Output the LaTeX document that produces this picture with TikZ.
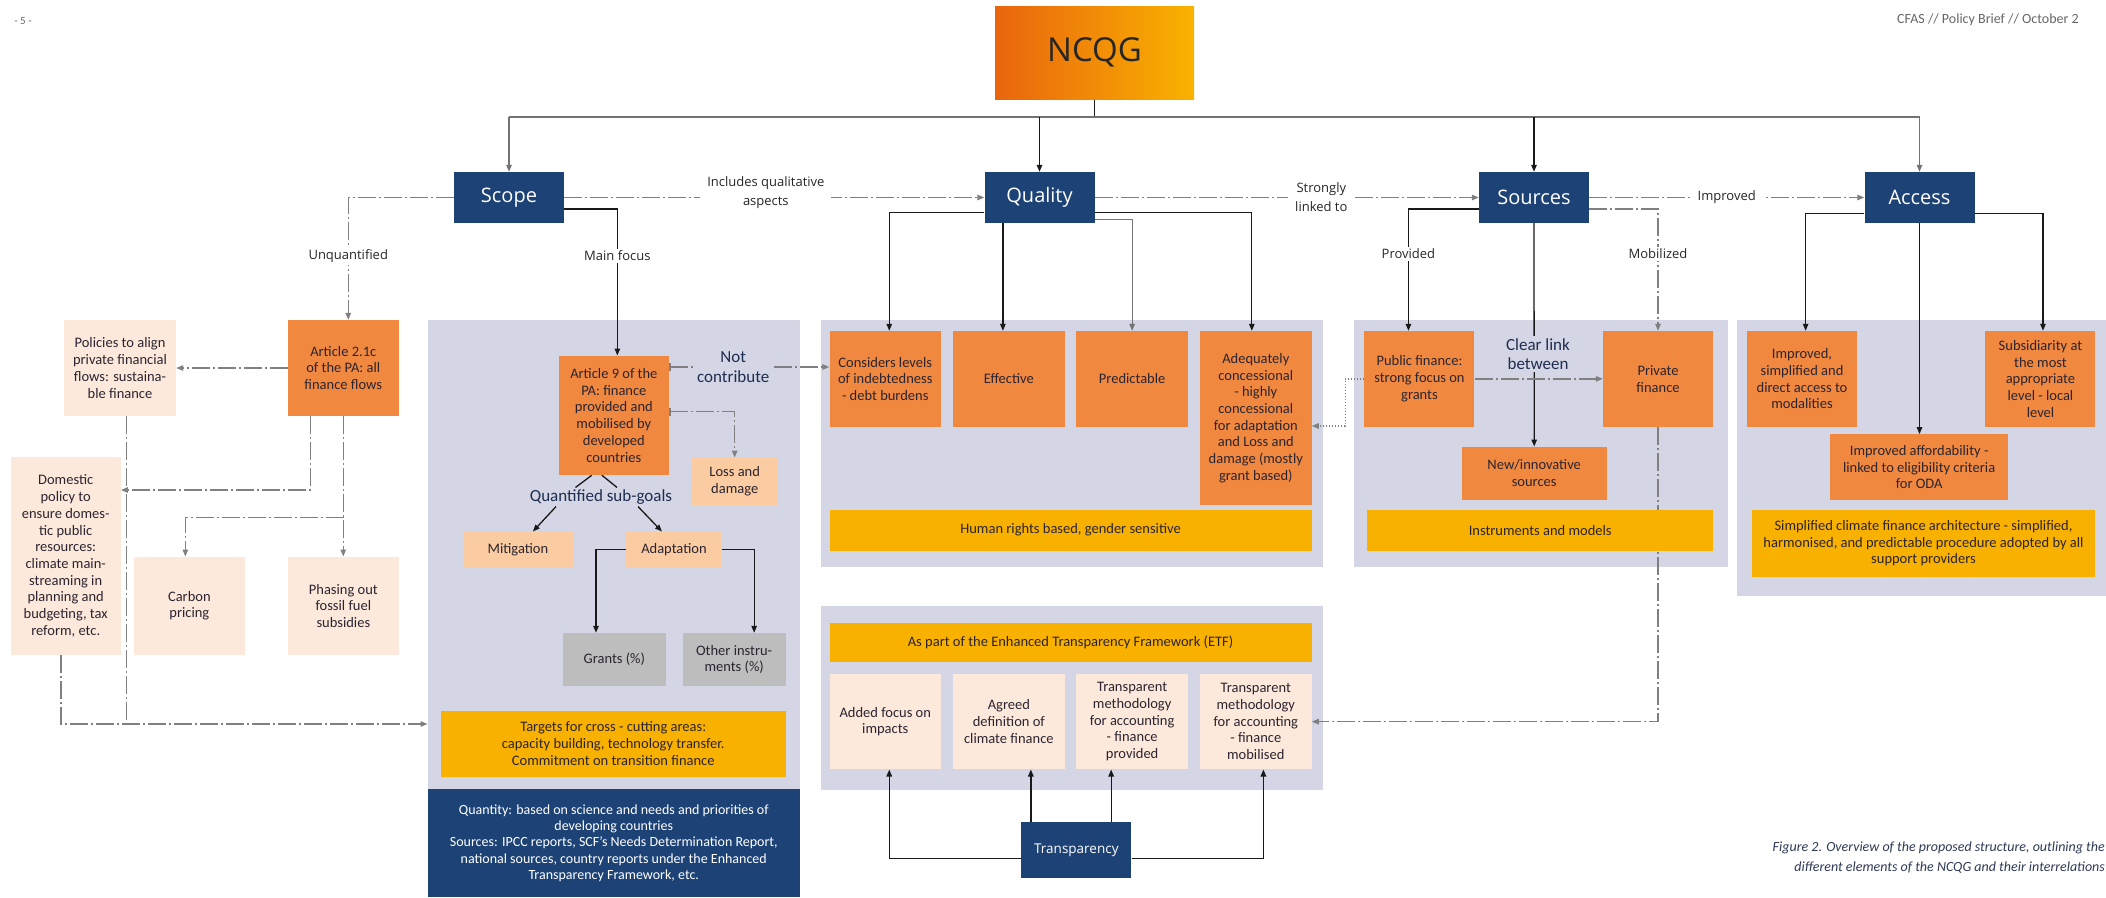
\documentclass[tikz,border=0pt]{standalone}
\usepackage{fontspec}
\setmainfont{Carlito}
\newfontfamily\opensans{Open Sans}
\usetikzlibrary{arrows.meta}
\pgfdeclarelayer{bg}
\pgfdeclarelayer{conn}
\pgfsetlayers{bg,conn,main}
\definecolor{navy}{HTML}{1D4275}
\definecolor{orng}{HTML}{F0893F}
\definecolor{lorng}{HTML}{FBCBA2}
\definecolor{peach}{HTML}{FDE9DB}
\definecolor{yelw}{HTML}{F9B100}
\definecolor{greybox}{HTML}{BDBDBD}
\definecolor{panel}{HTML}{D4D6E5}
\definecolor{ink}{HTML}{2B2430}
\definecolor{navytxt}{HTML}{1F2D4F}
\definecolor{capt}{HTML}{2F3A56}
\definecolor{ncqgA}{HTML}{E9650D}
\definecolor{ncqgB}{HTML}{F9B200}
\newcommand\bxfont{\fontsize{14.5}{16.7}\selectfont}

\begin{document}
\begin{tikzpicture}[x=1pt,y=-1pt,
    >={Triangle[length=7pt,width=5.5pt]},
    every node/.style={inner sep=0pt,align=center},
    wh/.style 2 args={minimum width=#1pt,minimum height=#2pt},
    bx/.style={text=ink,font=\bxfont},
    head/.style={fill=navy,text=white,font=\opensans\fontsize{20}{24}\selectfont,wh={110}{51}},
    org/.style={bx,fill=orng},
    lor/.style={bx,fill=lorng},
    pch/.style={bx,fill=peach},
    yel/.style={bx,fill=yelw},
    gry/.style={bx,fill=greybox},
    lbl/.style={font=\opensans\fontsize{13}{19}\selectfont,text=black!85,fill=white,inner xsep=7pt,inner ysep=2pt},
    big/.style={font=\fontsize{17}{19.5}\selectfont,text=navytxt,fill=panel,inner sep=2pt},
    sline/.style={draw=black!90,line width=1.3pt},
    gline/.style={draw=black!55,line width=1.3pt},
    dline/.style={draw=black!50,line width=1.3pt,dash pattern=on 18pt off 3pt on 2pt off 3pt},
    dotline/.style={draw=black!50,line width=1.3pt,dash pattern=on 1.5pt off 1.5pt}]
\useasboundingbox (0,0) rectangle (2106,897);

\begin{pgfonlayer}{bg}
\fill[panel] (427.5,320) rectangle (800,789);
\fill[panel] (820.5,320) rectangle (1323,567.3);
\fill[panel] (1354,320) rectangle (1728,567.3);
\fill[panel] (1737,320) rectangle (2106,596);
\fill[panel] (820.5,606) rectangle (1323,790);
\end{pgfonlayer}

\node[font=\fontsize{11}{13}\selectfont,text=black!60] (pgno) at (23,21) {- 5 -};
\node[anchor=west,font=\fontsize{14}{16}\selectfont,text=black!60] (brief) at (1897,20) {CFAS // Policy Brief // October 2};
\node[left color=ncqgA,right color=ncqgB,wh={199}{93},font=\opensans\fontsize{33}{36}\selectfont,text=black!85] (ncqg) at (1094.5,52.5) {NCQG};

\node[head] (scope) at (509,197.5) {Scope};
\node[head] (quality) at (1039.5,197.5) {Quality};
\node[head] (sources) at (1534,197.5) {Sources};
\node[head] (access) at (1919.5,197.5) {Access};

\node[pch,wh={112}{96}] (policies) at (120,368) {Policies to align\\private financial\\flows: sustaina-\\ble finance};
\node[org,wh={110.5}{96}] (art21) at (343.25,368) {Article 2.1c\\of the PA: all\\finance flows};
\node[pch,wh={110}{198}] (domestic) at (65.7,556) {Domestic\\policy to\\ensure domes-\\tic public\\resources:\\climate main-\\streaming in\\planning and\\budgeting, tax\\reform, etc.};
\node[pch,wh={110.7}{98.3}] (carbon) at (189.35,605.85) {Carbon\\pricing};
\node[pch,wh={110.7}{98.3}] (phasing) at (343.35,605.85) {Phasing out\\fossil fuel\\subsidies};

\node[org,wh={110.3}{119.3}] (art9) at (613.85,415.35) {Article 9 of the\\PA: finance\\provided and\\mobilised by\\developed\\countries};
\node[lor,wh={86}{47.3}] (loss) at (734.7,481.35) {Loss and\\damage};
\node[big] (subgoals) at (601,497) {Quantified sub-goals};
\node[lor,wh={110.2}{36}] (mitig) at (517.9,549.7) {Mitigation};
\node[lor,wh={95}{36}] (adapt) at (673.95,549.7) {Adaptation};
\node[gry,wh={103}{52.7}] (grants) at (614.3,659.35) {Grants (\%)};
\node[gry,wh={103}{52.7}] (other) at (734.15,659.35) {Other instru-\\ments (\%)};
\node[yel,wh={345}{66}] (targets) at (613.25,743.7) {Targets for cross - cutting areas:\\capacity building, technology transfer.\\Commitment on transition finance};
\node[fill=navy,text=white,font=\fontsize{14}{16.3}\selectfont,wh={372.5}{108}] (quantity) at (613.75,843) {Quantity: based on science and needs and priorities of\\developing countries\\Sources: IPCC reports, SCF’s Needs Determination Report,\\national sources, country reports under the Enhanced\\Transparency Framework, etc.};

\node[org,wh={111.5}{95.7}] (cons) at (885.25,378.85) {Considers levels\\of indebtedness\\- debt burdens};
\node[org,wh={111.5}{95.7}] (effect) at (1008.85,378.85) {Effective};
\node[org,wh={111.5}{95.7}] (predict) at (1132.15,378.85) {Predictable};
\node[org,wh={111.5}{174}] (adeq) at (1255.8,418) {Adequately\\concessional\\- highly\\concessional\\for adaptation\\and Loss and\\damage (mostly\\grant based)};
\node[yel,wh={482}{41}] (human) at (1070.55,530.2) {Human rights based, gender sensitive};

\node[org,wh={110}{95.7}] (public) at (1419.45,378.85) {Public finance:\\strong focus on\\grants};
\node[org,wh={110}{95.7}] (private) at (1658,378.85) {Private\\finance};
\node[org,wh={144.6}{53.3}] (newsrc) at (1534.2,473.35) {New/innovative\\sources};
\node[yel,wh={345.6}{41}] (instr) at (1540.2,530.2) {Instruments and models};
\node[big] (clear) at (1538,354) {Clear link\\between};

\node[org,wh={110.4}{95.7}] (impr) at (1802,378.85) {Improved,\\simplified and\\direct access to\\modalities};
\node[org,wh={110}{95.7}] (subsid) at (2040.45,378.85) {Subsidiarity at\\the most\\appropriate\\level - local\\level};
\node[org,wh={178}{65.7}] (afford) at (1919.15,467.15) {Improved affordability -\\linked to eligibility criteria\\for ODA};
\node[yel,wh={343.8}{67}] (simpl) at (1923.5,543.2) {Simplified climate finance architecture - simplified,\\harmonised, and predictable procedure adopted by all\\support providers};

\node[yel,wh={482}{39.3}] (etf) at (1070.55,642.35) {As part of the Enhanced Transparency Framework (ETF)};
\node[pch,wh={111.5}{95.3}] (added) at (885.25,721.65) {Added focus on\\impacts};
\node[pch,wh={111.5}{95.3}] (agreed) at (1008.85,721.65) {Agreed\\definition of\\climate finance};
\node[pch,wh={111.5}{95.3}] (tmprov) at (1132.15,721.65) {Transparent\\methodology\\for accounting\\- finance\\provided};
\node[pch,wh={111.5}{95.3}] (tmmob) at (1255.8,721.65) {Transparent\\methodology\\for accounting\\- finance\\mobilised};
\node[fill=navy,text=white,font=\opensans\fontsize{13.5}{16}\selectfont,wh={110}{56}] (transp) at (1076.35,850) {Transparency};

\node[anchor=east,align=right,font=\itshape\fontsize{14}{20}\selectfont,text=capt] (caption) at (2105,858) {Figure 2. Overview of the proposed structure, outlining the\\different elements of the NCQG and their interrelations};

\coordinate (hub) at (1094,117);
\coordinate (fork) at (343.5,517.3);
\coordinate (tgin) at ([xshift=-13pt,yshift=19.7pt]targets.west);

\begin{pgfonlayer}{conn}
\draw[sline] (ncqg.south) -- (ncqg.south |- hub);
\draw[gline] (scope.north |- hub) -- (access.north |- hub);
\draw[gline,->] (scope.north |- hub) -- (scope.north);
\draw[sline,->] (quality.north |- hub) -- (quality.north);
\draw[sline,->] (sources.north |- hub) -- (sources.north);
\draw[gline,->] (access.north |- hub) -- (access.north);

\draw[dline,->] (scope) -- node[lbl,pos=0.48,yshift=5pt] {Includes qualitative\\aspects} (quality);
\draw[dline,->] (quality) -- node[lbl,pos=0.59] {Strongly\\linked to} (sources);
\draw[dline,->] (sources) -- node[lbl] {Improved} (access);

\draw[dline,->] (scope.west) -| node[lbl,pos=0.74] {Unquantified} ([xshift=5pt]art21.north);
\draw[sline,->] ([yshift=-11.5pt]scope.east) -| node[lbl,pos=0.66] {Main focus} ([xshift=3.5pt]art9.north);

\draw[dline,->] (art21.west) -- (policies.east);
\draw[dline,->] ([xshift=-32.6pt]art21.south) |- ([yshift=66pt]domestic.east);
\draw[dline,->] (art21.south) -- (art21.south |- phasing.north);
\draw[dline,->] (fork) -| ([xshift=-4pt]carbon.north);
\draw[dline,->] ([xshift=-4.7pt]domestic.south) |- (tgin);
\draw[dline] ([xshift=6.5pt]policies.south) -- ([xshift=6.5pt]policies.south |- tgin);

\draw[dline,|->] ([yshift=48.35pt]art9.east) -- node[big,pos=0.4] {Not\\contribute} ([yshift=11.85pt]cons.west);
\draw[dline,|->] ([yshift=3.65pt]art9.east) -| (loss.north);
\draw[sline] ([xshift=-22pt]art9.south) -- ([xshift=-25.5pt]subgoals.north);
\draw[sline] ([xshift=-12pt]art9.south) -- ([xshift=16pt]subgoals.north);
\draw[sline,->] ([xshift=-45pt]subgoals.south) -- ([xshift=15pt]mitig.north);
\draw[sline,->] ([xshift=37pt]subgoals.south) -- ([xshift=-12pt]adapt.north);
\draw[sline,->] (adapt.west) -| ([xshift=-18.3pt]grants.north);
\draw[sline,->] (adapt.east) -| ([xshift=20pt]other.north);

\draw[sline,->] ([yshift=-15.2pt]quality.west) -| ([xshift=4pt]cons.north);
\draw[sline,->] ([xshift=-6pt]effect.north |- quality.south) -- ([xshift=-6pt]effect.north);
\draw[gline,->] ([yshift=-21.8pt]quality.east) -| (predict.north);
\draw[sline,->] ([yshift=-15.2pt]quality.east) -| ([xshift=-4pt]adeq.north);

\draw[sline,->] ([yshift=-11.5pt]sources.west) -| node[lbl,pos=0.684] {Provided} ([xshift=-11pt]public.north);
\draw[dline,->] ([yshift=-11.5pt]sources.east) -| node[lbl,pos=0.684] {Mobilized} (private.north);
\draw[sline,->] (sources.south) -- (newsrc.north);
\draw[dline,->] (public.east) -- (private.west);
\draw[dotline,->] (public.west) -- ++(-19,0) |- ([yshift=-8pt]adeq.east);
\draw[dline,->] (private.south) |- (tmmob.east);

\draw[sline,->] ([yshift=-15.8pt]access.west) -| ([xshift=3.6pt]impr.north);
\draw[sline,->] (access.south) -- (access.south |- afford.north);
\draw[sline,->] ([yshift=-15.8pt]access.east) -| ([xshift=2.5pt]subsid.north);

\draw[sline,->] ([yshift=-8.3pt]transp.west) -| ([xshift=4pt]added.south);
\draw[sline,->] ([xshift=22pt]agreed.south |- transp.north) -- ([xshift=22pt]agreed.south);
\draw[sline,->] ([xshift=-21pt]tmprov.south |- transp.north) -- ([xshift=-21pt]tmprov.south);
\draw[sline,->] ([yshift=-8.3pt]transp.east) -| ([xshift=7.6pt]tmmob.south);
\end{pgfonlayer}
\end{tikzpicture}
\end{document}
